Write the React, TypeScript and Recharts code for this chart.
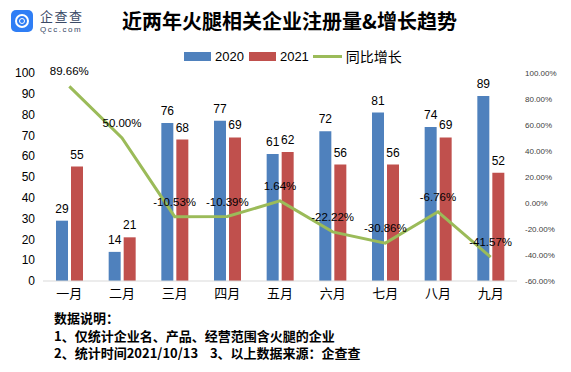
import React from 'react';
import { ComposedChart, Bar, Line, XAxis, YAxis, LabelList } from 'recharts';

const months = ['一月', '二月', '三月', '四月', '五月', '六月', '七月', '八月', '九月'];
const y2020 = [29, 14, 76, 77, 61, 72, 81, 74, 89];
const y2021 = [55, 21, 68, 69, 62, 56, 56, 69, 52];
const yoy = [89.66, 50.0, -10.53, -10.39, 1.64, -22.22, -30.86, -6.76, -41.57];
const leftTicks = [0, 10, 20, 30, 40, 50, 60, 70, 80, 90, 100];
const rightTicks = [-60, -40, -20, 0, 20, 40, 60, 80, 100];

const BLUE = '#4F81BD';
const RED = '#C0504D';
const GREEN = '#9BBB59';
const FONT = '"Liberation Sans", "Noto Sans CJK SC", sans-serif';
const CJK = '"Noto Sans CJK SC", sans-serif';

const data = months.map((m, i) => ({ month: m, a: y2020[i], b: y2021[i], r: yoy[i] }));

const pct = (v: number) => `${v.toFixed(2)}%`;

const Legend = () => (
  <div style={{ position: 'absolute', left: 184, top: 46, display: 'flex', alignItems: 'center', fontFamily: FONT, fontSize: 13, color: '#000' }}>
    <span style={{ width: 27, height: 9, background: BLUE, display: 'inline-block' }} />
    <span style={{ margin: '0 5px 0 4px' }}>2020</span>
    <span style={{ width: 27, height: 9, background: RED, display: 'inline-block' }} />
    <span style={{ margin: '0 4px 0 4px' }}>2021</span>
    <span style={{ width: 29, height: 3, background: GREEN, display: 'inline-block' }} />
    <span style={{ marginLeft: 4, fontFamily: CJK, fontSize: 14 }}>同比增长</span>
  </div>
);

const Logo = () => (
  <div style={{ position: 'absolute', left: 11, top: 10 }}>
    <div style={{ position: 'absolute', left: 0, top: 0, width: 22, height: 22, borderRadius: 5, background: '#2F7EF5' }}>
      <div style={{ position: 'absolute', left: 4, top: 4, width: 10, height: 10, borderRadius: 7, border: '2px solid #fff' }} />
      <div style={{ position: 'absolute', left: 8, top: 8, width: 4, height: 4, borderRadius: 3, border: '1.5px solid #fff' }} />
    </div>
    <div style={{ position: 'absolute', left: 29, top: -1, fontFamily: CJK, fontSize: 13, lineHeight: '14px', color: '#3b4a66', whiteSpace: 'nowrap', letterSpacing: 1.5 }}>企查查</div>
    <div style={{ position: 'absolute', left: 29, top: 15, fontFamily: FONT, fontSize: 8, lineHeight: '9px', color: '#3b4a66', whiteSpace: 'nowrap', letterSpacing: 1.5 }}>Qcc.com</div>
  </div>
);

export default function App() {
  return (
    <div style={{ position: 'relative', width: 571, height: 372, background: '#fff', overflow: 'hidden' }}>
      <style>{'body{margin:0}'}</style>
      <Logo />
      <div style={{ position: 'absolute', left: 0, width: 571, top: 6, textAlign: 'center', fontFamily: CJK, fontWeight: 'bold', fontSize: 20, color: '#000', paddingLeft: 4 }}>
        近两年火腿相关企业注册量&amp;增长趋势
      </div>
      <Legend />
      <ComposedChart
        width={571}
        height={372}
        data={data}
        margin={{ top: 73, right: 4, bottom: 61, left: 8 }}
        barSize={12}
        barGap={3}
        style={{ position: 'absolute', left: 0, top: 0 }}
      >
        <XAxis
          dataKey="month"
          axisLine={{ stroke: '#d9d9d9' }}
          tickLine={false}
          height={30}
          tick={{ fontSize: 13, fill: '#000', fontFamily: CJK }}
        />
        <YAxis
          yAxisId="left"
          domain={[0, 100]}
          ticks={leftTicks}
          width={35}
          axisLine={false}
          tickLine={false}
          tick={{ fontSize: 12, fill: '#000', fontFamily: FONT }}
        />
        <YAxis
          yAxisId="right"
          orientation="right"
          domain={[-60, 100]}
          ticks={rightTicks}
          width={50}
          axisLine={false}
          tickLine={false}
          tickFormatter={pct}
          tick={{ fontSize: 8, fill: '#404040', fontFamily: FONT, textAnchor: 'start' }}
        />
        <Bar yAxisId="left" dataKey="a" fill={BLUE} isAnimationActive={false}>
          <LabelList dataKey="a" position="top" offset={8} style={{ fontSize: 12, fill: '#000', fontFamily: FONT }} />
        </Bar>
        <Bar yAxisId="left" dataKey="b" fill={RED} isAnimationActive={false}>
          <LabelList dataKey="b" position="top" offset={8} style={{ fontSize: 12, fill: '#000', fontFamily: FONT }} />
        </Bar>
        <Line yAxisId="right" dataKey="r" stroke={GREEN} strokeWidth={3} dot={false} isAnimationActive={false}>
          <LabelList dataKey="r" position="top" offset={11} formatter={(v: any) => pct(Number(v))} style={{ fontSize: 11.5, fill: '#000', fontFamily: FONT }} />
        </Line>
      </ComposedChart>
      <div style={{ position: 'absolute', left: 54, top: 309, fontFamily: CJK, fontWeight: 'bold', fontSize: 13, lineHeight: '17.5px', color: '#000', whiteSpace: 'pre' }}>
        {'数据说明：\n1、仅统计企业名、产品、经营范围含火腿的企业\n2、统计时间2021/10/13    3、以上数据来源：企查查'}
      </div>
    </div>
  );
}
